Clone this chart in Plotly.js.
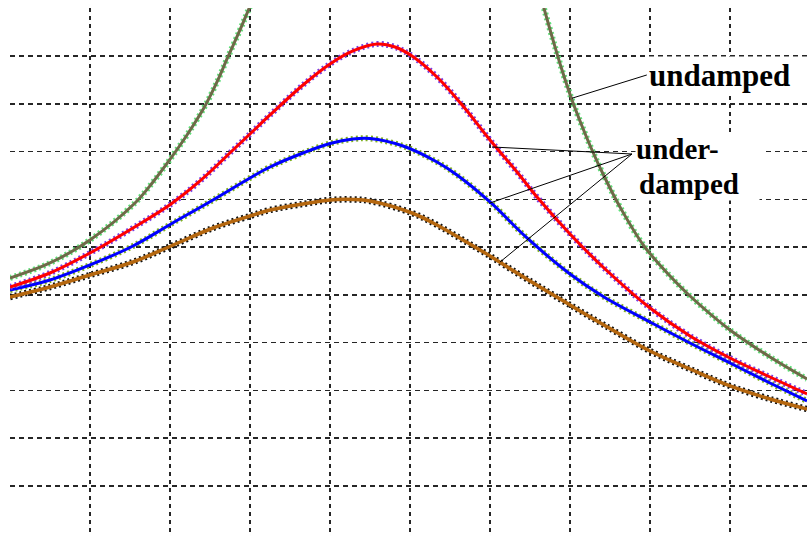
<!DOCTYPE html>
<html>
<head>
<meta charset="utf-8">
<script src="https://cdn.plot.ly/plotly-3.0.1.min.js"></script>
<style>
html,body{margin:0;padding:0;background:#fff;overflow:hidden;}
#chart{width:807px;height:536px;}
</style>
</head>
<body>
<div id="chart"></div>
<script>
// Grid positions (frequency / amplitude units)
const xGrid = [1, 2, 3, 4, 5, 6, 7, 8, 9];
const yGrid = [1, 2, 3, 4, 5, 6, 7, 8, 9, 10];

// Undamped response: two branches either side of resonance
const freqUndampedLow  = [0, 0.5, 1.0, 1.5625, 1.7875, 2.0125, 2.2125, 2.4375, 2.5875, 2.7125, 2.875, 2.975, 3.075];
const ampUndampedLow   = [5.353, 5.668, 6.150, 6.925, 7.365, 7.868, 8.350, 8.957, 9.460, 9.942, 10.550, 10.948, 11.346];
const freqUndampedHigh = [6.625, 6.6875, 6.7875, 6.9, 7.025, 7.15, 7.275, 7.425, 7.625, 7.925, 8.25, 8.5, 9.0, 9.5, 9.9625];
const ampUndampedHigh  = [11.304, 10.927, 10.340, 9.711, 9.083, 8.538, 8.035, 7.490, 6.841, 6.024, 5.395, 4.976, 4.264, 3.698, 3.237];

// Light damping (red)
const freqLight = [0, 0.5, 1.0, 1.5375, 2.0125, 2.375, 2.7875, 3.0, 3.25, 3.6625, 4.0, 4.2875, 4.5875, 4.8125, 5.025, 5.3375, 5.6625, 6.0, 6.3375, 6.5875, 7.0, 7.425, 8.0, 8.5, 9.0, 9.5, 9.9625];
const ampLight  = [5.165, 5.458, 5.877, 6.401, 6.904, 7.386, 8.035, 8.370, 8.769, 9.397, 9.837, 10.110, 10.256, 10.193, 10.005, 9.565, 8.957, 8.245, 7.574, 7.050, 6.275, 5.563, 4.725, 4.139, 3.677, 3.279, 2.923];

// Medium damping (blue)
const freqMedium = [0, 0.5, 1.0, 1.5375, 2.0125, 2.5375, 3.0, 3.25, 3.6625, 4.0, 4.2875, 4.5, 4.9125, 5.3375, 5.5875, 6.0, 6.4625, 7.0, 7.425, 8.0, 8.5, 9.0, 9.5, 9.9625];
const ampMedium  = [5.102, 5.311, 5.626, 6.024, 6.485, 6.988, 7.449, 7.679, 7.972, 8.171, 8.266, 8.276, 8.119, 7.784, 7.512, 6.946, 6.192, 5.437, 4.955, 4.431, 3.991, 3.572, 3.153, 2.776];

// Heavy damping (brown)
const freqHeavy = [0, 0.5, 1.0, 1.5375, 2.0125, 2.5375, 3.0, 3.25, 3.6625, 4.0, 4.2875, 4.5, 5.025, 5.3375, 5.6625, 6.0, 6.3375, 6.625, 7.0, 7.425, 8.0, 8.5, 9.0, 9.5, 9.9625];
const ampHeavy  = [4.955, 5.165, 5.416, 5.689, 6.024, 6.401, 6.652, 6.778, 6.904, 6.988, 6.998, 6.967, 6.715, 6.464, 6.150, 5.815, 5.458, 5.165, 4.788, 4.369, 3.824, 3.447, 3.091, 2.818, 2.609];

// Labels
const labelUndamped = "undamped";
const labelUnder1 = "under-";
const labelUnder2 = "damped";

const freqUndamped = freqUndampedLow.concat([null], freqUndampedHigh);
const ampUndamped  = ampUndampedLow.concat([null], ampUndampedHigh);

function pair(x, y, lineColor, markColor, w) {
  return [
    {x: x, y: y, type: 'scatter', mode: 'lines', hoverinfo: 'skip',
     line: {color: markColor, width: w + 3, dash: '2px,3px', shape: 'spline', smoothing: 1}},
    {x: x, y: y, type: 'scatter', mode: 'lines', hoverinfo: 'skip',
     line: {color: lineColor, width: w, shape: 'spline', smoothing: 1}}
  ];
}

const data = [].concat(
  pair(freqHeavy, ampHeavy, '#b5670f', '#111111', 3.5),
  pair(freqMedium, ampMedium, '#0000ff', '#7fb020', 3),
  pair(freqLight, ampLight, '#ff0000', '#7b3fe0', 3),
  pair(freqUndamped, ampUndamped, '#6e6a48', '#5fe07a', 3)
);

const labelFont = {family: "'Liberation Serif', 'Times New Roman', serif", size: 31, color: '#000', weight: 'bold'};
const labelFont2 = {family: "'Liberation Serif', 'Times New Roman', serif", size: 29, color: '#000', weight: 'bold'};

const layout = {
  width: 807, height: 536,
  margin: {l: 10, r: 0, t: 8, b: 0, pad: 0},
  paper_bgcolor: '#fff', plot_bgcolor: '#fff',
  showlegend: false,
  xaxis: {range: [0, 9.9625], tickvals: xGrid, showticklabels: false, ticks: '',
          showgrid: true, gridcolor: '#262626', gridwidth: 1.5, griddash: '4px,4px',
          zeroline: false, showline: false, fixedrange: true},
  yaxis: {range: [-0.052, 11.01], tickvals: yGrid, showticklabels: false, ticks: '',
          showgrid: true, gridcolor: '#262626', gridwidth: 1.5, griddash: '5px,4px',
          zeroline: false, showline: false, fixedrange: true},
  shapes: [
    {type: 'line', xref: 'x', yref: 'y', x0: 7.025, y0: 9.12, x1: 7.96, y1: 9.607, line: {color: '#000', width: 1}},
    {type: 'line', xref: 'x', yref: 'y', x0: 6.025, y0: 8.098, x1: 7.775, y1: 7.951, line: {color: '#000', width: 1}},
    {type: 'line', xref: 'x', yref: 'y', x0: 6.0, y0: 6.925, x1: 7.775, y1: 7.951, line: {color: '#000', width: 1}},
    {type: 'line', xref: 'x', yref: 'y', x0: 6.125, y0: 5.688, x1: 7.775, y1: 7.951, line: {color: '#000', width: 1}}
  ],
  annotations: [
    {x: 7.96, y: 9.586, xref: 'x', yref: 'y', xanchor: 'left', yanchor: 'middle', text: labelUndamped,
     showarrow: false, font: labelFont, bgcolor: '#fff', align: 'left', width: 165, borderpad: 1},
    {x: 7.81, y: 8.046, xref: 'x', yref: 'y', xanchor: 'left', yanchor: 'middle', text: labelUnder1,
     showarrow: false, font: labelFont2, bgcolor: '#fff', align: 'left', width: 126, borderpad: 0},
    {x: 7.85, y: 7.333, xref: 'x', yref: 'y', xanchor: 'left', yanchor: 'middle', text: labelUnder2,
     showarrow: false, font: labelFont2, bgcolor: '#fff', align: 'left', width: 120, borderpad: 0}
  ]
};

Plotly.newPlot('chart', data, layout, {displayModeBar: false, staticPlot: true});
</script>
</body>
</html>
